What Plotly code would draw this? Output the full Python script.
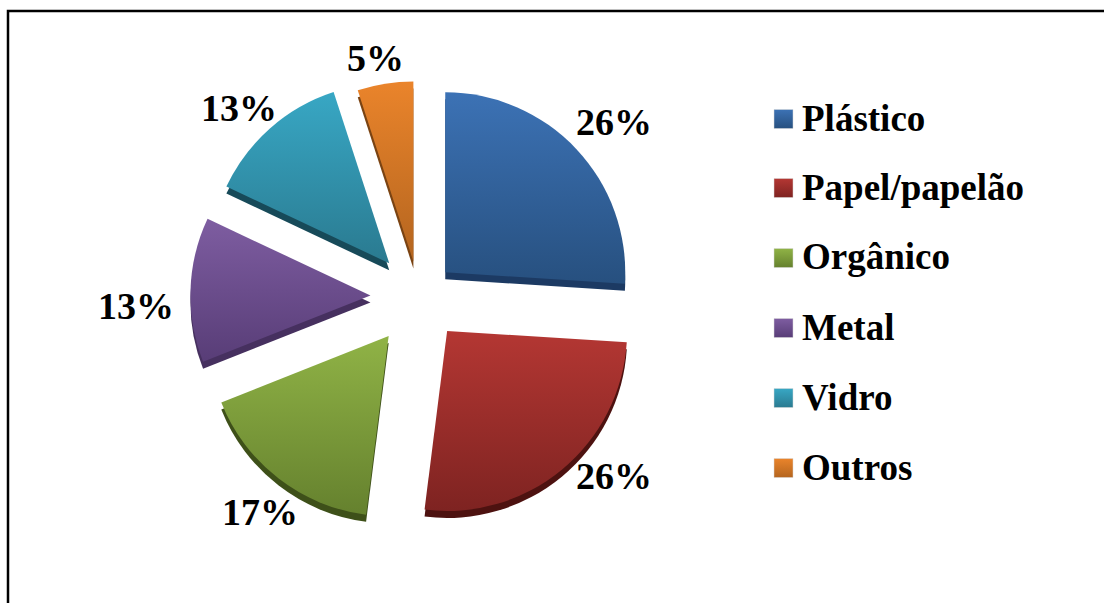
import plotly.graph_objects as go

categories = ["Plástico", "Papel/papelão", "Orgânico", "Metal", "Vidro", "Outros"]
values = [26, 26, 17, 13, 13, 5]
top_colors = ["#3C72B5", "#B43733", "#90B346", "#7E5DA1", "#38A7C4", "#EA842B"]
bottom_colors = ["#27507F", "#7E2321", "#65812E", "#583D77", "#2A7A90", "#B4651F"]
side_colors = ["#1C3A63", "#4D1210", "#3E5019", "#46305F", "#174A59", "#7A4312"]
pull = [0.2, 0.245, 0.275, 0.27, 0.25, 0.2]
serif = "Liberation Serif"

W, H = 1104, 603
CX, CY, RADIUS = 419, 297, 180
HALF = RADIUS * (1 + max(pull))
DEPTH = 7


def pie_domain(dy):
    return dict(
        x=[(CX - HALF) / W, (CX + HALF) / W],
        y=[1 - (CY + dy + HALF) / H, 1 - (CY + dy - HALF) / H],
    )


fig = go.Figure()

# Extruded side of the pie, sitting just below the top face
fig.add_trace(go.Pie(
    labels=categories, values=values, pull=pull, sort=False, direction="clockwise",
    rotation=0, domain=pie_domain(DEPTH), textinfo="none", hoverinfo="skip",
    showlegend=False, marker=dict(colors=side_colors, line=dict(width=0)),
))

# Top face
fig.add_trace(go.Pie(
    labels=categories, values=values, pull=pull, sort=False, direction="clockwise",
    rotation=0, domain=pie_domain(0), textinfo="none",
    showlegend=False, marker=dict(colors=top_colors, line=dict(width=0)),
))

shapes = []
annotations = []

# Percentage labels around the pie
label_xy = [(614, 122), (614, 476), (260, 512), (136, 306), (239, 108), (375, 58)]
for value, (x, y) in zip(values, label_xy):
    annotations.append(dict(
        text=f"<b>{value}%</b>", xref="paper", yref="paper", x=x / W, y=1 - y / H,
        xanchor="center", yanchor="middle", showarrow=False,
        font=dict(family=serif, size=38, color="#000000"),
    ))

# Hand-spaced legend: swatches and bold serif entries
row_y = [119, 188, 258, 328, 398, 468]
for name, color, y in zip(categories, top_colors, row_y):
    shapes.append(dict(
        type="rect", xref="paper", yref="paper",
        x0=774 / W, x1=793 / W, y0=1 - (y + 9.5) / H, y1=1 - (y - 9.5) / H,
        fillcolor=color, line=dict(color="#D9D9D9", width=0.5),
    ))
    annotations.append(dict(
        text=f"<b>{name}</b>", xref="paper", yref="paper", x=800 / W, y=1 - (y - 1) / H,
        xanchor="left", yanchor="middle", showarrow=False,
        font=dict(family=serif, size=37, color="#000000"),
    ))

# Chart frame: left and top edges run off the page
shapes.append(dict(
    type="path", xref="paper", yref="paper",
    path=f"M {8/W} 0 L {8/W} {1-11/H} L 1 {1-11/H}",
    line=dict(color="#000000", width=2.5),
))

fig.update_layout(
    width=W, height=H, margin=dict(l=0, r=0, t=0, b=0),
    paper_bgcolor="#FFFFFF", plot_bgcolor="#FFFFFF",
    showlegend=False, shapes=shapes, annotations=annotations,
)

# Vertical light-to-dark gradients on the slices and the legend swatches
gradient_js = """
var gd = document.getElementsByClassName('plotly-graph-div')[0];
var tops = %s, bottoms = %s;
var NS = 'http://www.w3.org/2000/svg';
var svg = gd.querySelector('svg.main-svg');
var defs = svg.querySelector('defs');
tops.forEach(function (c, i) {
  var g = document.createElementNS(NS, 'linearGradient');
  g.setAttribute('id', 'shade' + i);
  g.setAttribute('x1', '0'); g.setAttribute('y1', '0');
  g.setAttribute('x2', '0'); g.setAttribute('y2', '1');
  [[0, c], [1, bottoms[i]]].forEach(function (s) {
    var st = document.createElementNS(NS, 'stop');
    st.setAttribute('offset', s[0]);
    st.setAttribute('stop-color', s[1]);
    g.appendChild(st);
  });
  defs.appendChild(g);
});
var traces = gd.querySelectorAll('.pielayer .trace');
traces[traces.length - 1].querySelectorAll('.slice path.surface').forEach(function (p, i) {
  p.style.fill = 'url(#shade' + i + ')';
});
gd.querySelectorAll('.shapelayer path').forEach(function (p, i) {
  if (i < tops.length) p.style.fill = 'url(#shade' + i + ')';
});
""" % (top_colors, bottom_colors)

fig.write_html("out.html", post_script=gradient_js)
